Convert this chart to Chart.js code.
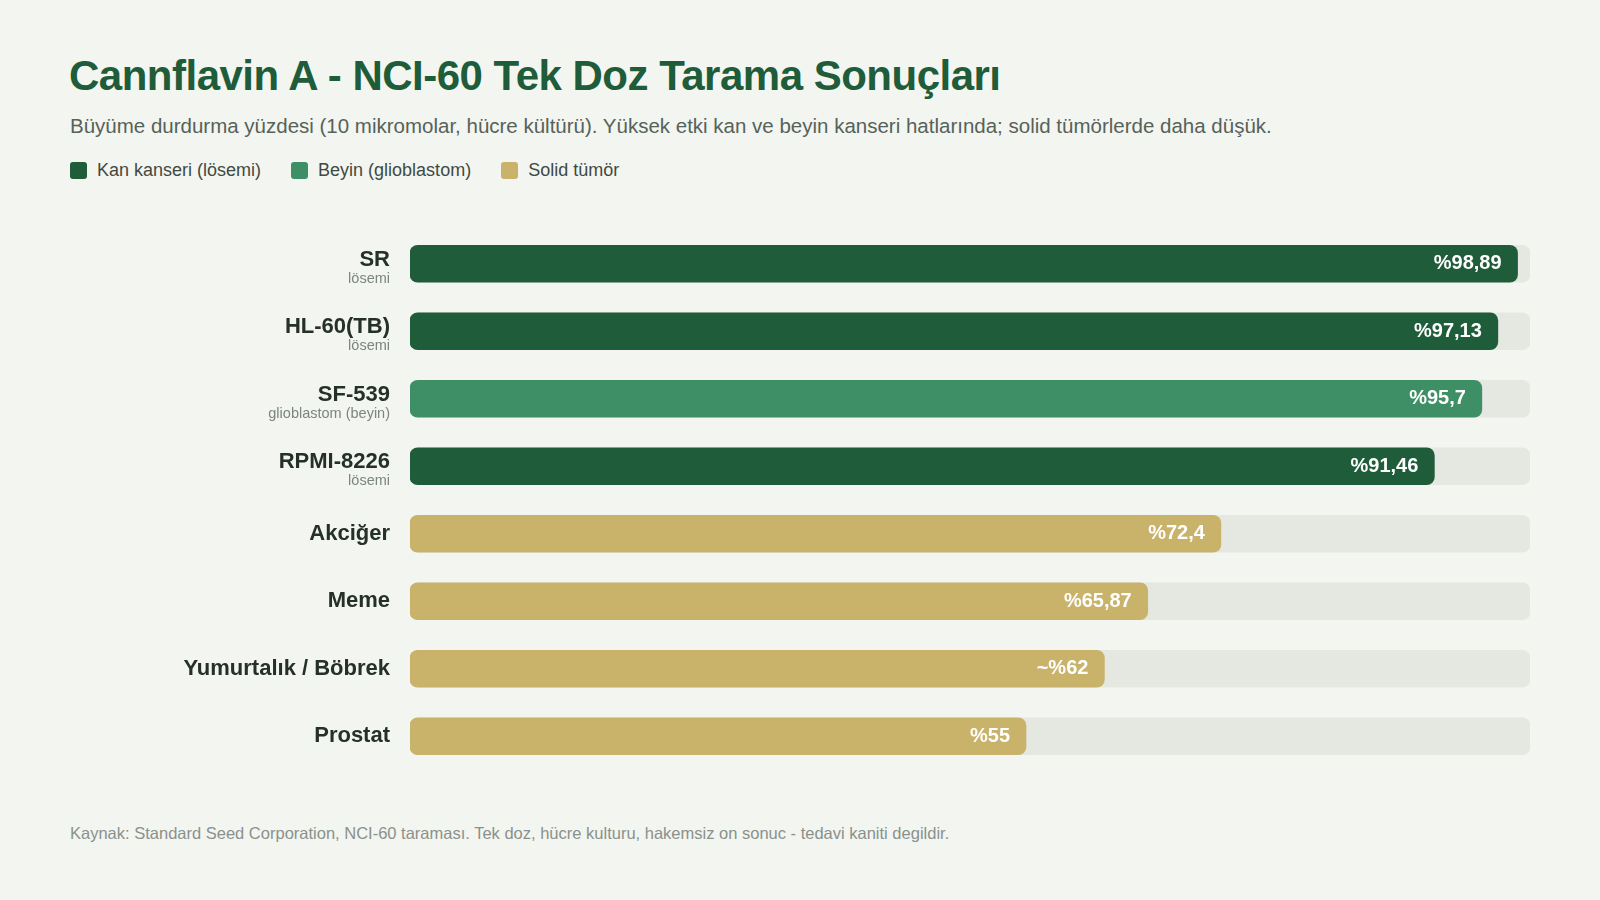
<!DOCTYPE html>
<html><head><meta charset="utf-8">
<script src="https://cdn.jsdelivr.net/npm/chart.js@4/dist/chart.umd.min.js"></script>
<style>
html,body{margin:0;background:#f3f5f0;font-family:"Helvetica Neue",Arial,"Liberation Sans",sans-serif;}
#wrap{position:relative;width:1600px;height:900px;}
h1{position:absolute;left:69px;top:52px;margin:0;font-size:42px;color:#1e5c3a;font-weight:700;letter-spacing:-0.5px;}
.sub{position:absolute;left:70px;top:114px;font-size:20.5px;color:#56625a;}
.leg{position:absolute;left:70px;top:160px;font-size:18px;color:#3f4a43;display:flex;gap:30px;}
.leg span{display:flex;align-items:center;}
.leg i{display:inline-block;width:17px;height:17px;border-radius:3px;margin-right:10px;}
.src{position:absolute;left:70px;top:824px;font-size:16.5px;color:#8a918c;}
#c{position:absolute;left:0;top:230px;}
</style></head><body><div id="wrap">
<h1>Cannflavin A - NCI-60 Tek Doz Tarama Sonuçları</h1>
<div class="sub">Büyüme durdurma yüzdesi (10 mikromolar, hücre kültürü). Yüksek etki kan ve beyin kanseri hatlarında; solid tümörlerde daha düşük.</div>
<div class="leg"><span><i style="background:#1e5c3a"></i>Kan kanseri (lösemi)</span><span><i style="background:#3f8f66"></i>Beyin (glioblastom)</span><span><i style="background:#c9b26a"></i>Solid tümör</span></div>
<canvas id="c" width="1600" height="540"></canvas>
<div class="src">Kaynak: Standard Seed Corporation, NCI-60 taraması. Tek doz, hücre kulturu, hakemsiz on sonuc - tedavi kaniti degildir.</div>
</div>
<script>
const names=["SR","HL-60(TB)","SF-539","RPMI-8226","Akciğer","Meme","Yumurtalık / Böbrek","Prostat"];
const subs=["lösemi","lösemi","glioblastom (beyin)","lösemi","","","",""];
const values=[98.89,97.13,95.7,91.46,72.4,65.87,62,55];
const valueLabels=["%98,89","%97,13","%95,7","%91,46","%72,4","%65,87","~%62","%55"];
const groups=["kan","kan","beyin","kan","solid","solid","solid","solid"];
const colorMap={kan:"#1e5c3a",beyin:"#3f8f66",solid:"#c9b26a"};
const labelPlugin={id:"lbl",afterDatasetsDraw(ch){
 const ctx=ch.ctx,y=ch.scales.y,meta=ch.getDatasetMeta(1);
 ctx.save();
 names.forEach((n,i)=>{
  const yc=y.getPixelForValue(i);
  ctx.textAlign="right";ctx.fillStyle="#243028";
  ctx.font="bold 22px 'Helvetica Neue',Arial,'Liberation Sans',sans-serif";
  if(subs[i]){ctx.textBaseline="alphabetic";ctx.fillText(n,390,yc+2);
   ctx.font="14.5px Arial,'Liberation Sans',sans-serif";ctx.fillStyle="#7c857f";ctx.fillText(subs[i],390,yc+19);}
  else{ctx.textBaseline="middle";ctx.fillText(n,390,yc);}
  const b=meta.data[i];
  ctx.fillStyle="#fff";ctx.textBaseline="middle";ctx.font="bold 20px 'Helvetica Neue',Arial,'Liberation Sans',sans-serif";
  ctx.fillText(valueLabels[i],b.x-16,yc);
 });
 ctx.restore();}};
new Chart(document.getElementById("c"),{type:"bar",
 data:{labels:names,datasets:[
  {data:names.map(()=>100),backgroundColor:"#e5e8e0",borderRadius:8,borderSkipped:false,barThickness:37,grouped:false,order:2},
  {data:values,backgroundColor:groups.map(g=>colorMap[g]),borderRadius:8,borderSkipped:false,barThickness:37,grouped:false,order:1}]},
 options:{indexAxis:"y",responsive:false,animation:false,
  layout:{padding:{left:410,right:70,top:0,bottom:0}},
  plugins:{legend:{display:false},tooltip:{enabled:false}},
  scales:{x:{min:0,max:100,display:false},y:{display:false,offset:true}}},
 plugins:[labelPlugin]});
</script></body></html>
